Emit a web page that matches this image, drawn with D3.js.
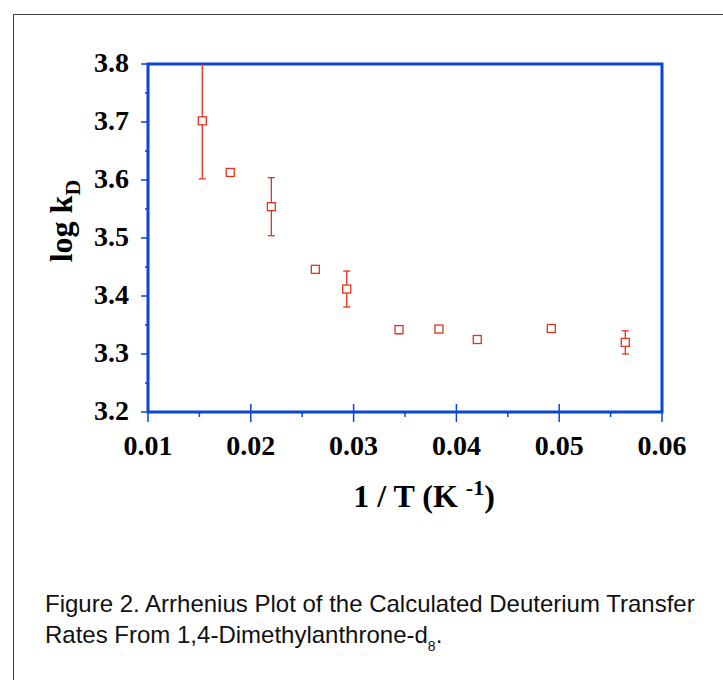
<!DOCTYPE html>
<html>
<head>
<meta charset="utf-8">
<script src="https://cdn.jsdelivr.net/npm/d3@7"></script>
<style>
body { margin: 0; background: #fff; }
svg { display: block; }
</style>
</head>
<body>
<div id="chart"></div>
<script>
// values
var invT   = [0.01528, 0.0180, 0.0220, 0.02628, 0.02933, 0.03442, 0.0383, 0.04203, 0.04923, 0.05643];
var logKD  = [3.702, 3.613, 3.554, 3.446, 3.412, 3.342, 3.343, 3.325, 3.344, 3.320];
var errKD  = [0.10, 0, 0.05, 0, 0.031, 0.007, 0, 0, 0, 0.02];
var xTicks = [0.01, 0.02, 0.03, 0.04, 0.05, 0.06];
var yTicks = [3.2, 3.3, 3.4, 3.5, 3.6, 3.7, 3.8];

var W = 723, H = 680;
var axisBlue = '#0a45d6', red = '#e3321f';
var serif = '"Liberation Serif", "Times New Roman", serif';

var svg = d3.select('#chart').append('svg').attr('width', W).attr('height', H);

// outer frame
svg.append('path').attr('d', 'M13.5,680 L13.5,14.5 L723,14.5')
   .attr('fill', 'none').attr('stroke', '#3a3a3a').attr('stroke-width', 1);

var x = d3.scaleLinear().domain([0.01, 0.06]).range([148, 662]);
var y = d3.scaleLinear().domain([3.2, 3.8]).range([412, 64]);

// minor ticks
var xMinor = xTicks.slice(0, -1).map(function(d) { return d + 0.005; });
var yMinor = yTicks.slice(0, -1).map(function(d) { return d + 0.05; });

var g = svg.append('g');

g.selectAll('.xmaj').data(xTicks).enter().append('line')
  .attr('x1', function(d) { return x(d); }).attr('x2', function(d) { return x(d); })
  .attr('y1', y(3.2) - 8).attr('y2', y(3.2) + 10)
  .attr('stroke', axisBlue).attr('stroke-width', 1.5);
g.selectAll('.xmin').data(xMinor).enter().append('line')
  .attr('x1', function(d) { return x(d); }).attr('x2', function(d) { return x(d); })
  .attr('y1', y(3.2)).attr('y2', y(3.2) + 5)
  .attr('stroke', axisBlue).attr('stroke-width', 1.5);
g.selectAll('.ymaj').data(yTicks).enter().append('line')
  .attr('x1', x(0.01) - 7).attr('x2', x(0.01))
  .attr('y1', function(d) { return y(d); }).attr('y2', function(d) { return y(d); })
  .attr('stroke', axisBlue).attr('stroke-width', 1.5);
g.selectAll('.ymin').data(yMinor).enter().append('line')
  .attr('x1', x(0.01) - 3).attr('x2', x(0.01))
  .attr('y1', function(d) { return y(d); }).attr('y2', function(d) { return y(d); })
  .attr('stroke', axisBlue).attr('stroke-width', 1.5);

// frame of plot
g.append('rect')
  .attr('x', x(0.01)).attr('y', y(3.8))
  .attr('width', x(0.06) - x(0.01)).attr('height', y(3.2) - y(3.8))
  .attr('fill', 'none').attr('stroke', axisBlue).attr('stroke-width', 3);

// tick labels
g.selectAll('.xl').data(xTicks).enter().append('text')
  .attr('x', function(d) { return x(d); }).attr('y', 455)
  .attr('text-anchor', 'middle')
  .style('font-family', serif).style('font-weight', 'bold').style('font-size', '28px')
  .text(function(d) { return d3.format('.2f')(d); });
g.selectAll('.yl').data(yTicks).enter().append('text')
  .attr('x', 129).attr('y', function(d) { return y(d) + 8; })
  .attr('text-anchor', 'end')
  .style('font-family', serif).style('font-weight', 'bold').style('font-size', '28px')
  .text(function(d) { return d3.format('.1f')(d); });

// axis titles
var xt = svg.append('text').attr('x', 424).attr('y', 507).attr('text-anchor', 'middle')
  .style('font-family', serif).style('font-weight', 'bold').style('font-size', '32px');
xt.append('tspan').text('1 / T (K ');
xt.append('tspan').attr('dy', -12).style('font-size', '22px').text('-1');
xt.append('tspan').attr('dy', 12).text(')');

var yt = svg.append('text').attr('transform', 'translate(72,221) rotate(-90)')
  .attr('text-anchor', 'middle')
  .style('font-family', serif).style('font-weight', 'bold').style('font-size', '32px');
yt.append('tspan').text('log k');
yt.append('tspan').attr('dy', 8).style('font-size', '22px').text('D');

// data
var pts = invT.map(function(d, i) { return { x: d, y: logKD[i], e: errKD[i] }; });
var plot = svg.append('g');
var withErr = pts.filter(function(d) { return d.e > 0; });
plot.selectAll('.eb').data(withErr).enter().append('line')
  .attr('x1', function(d) { return x(d.x); }).attr('x2', function(d) { return x(d.x); })
  .attr('y1', function(d) { return y(Math.min(d.y + d.e, 3.8)); })
  .attr('y2', function(d) { return y(d.y - d.e); })
  .attr('stroke', red).attr('stroke-width', 1.3);
plot.selectAll('.capb').data(withErr).enter().append('line')
  .attr('x1', function(d) { return x(d.x) - 3.5; }).attr('x2', function(d) { return x(d.x) + 3.5; })
  .attr('y1', function(d) { return y(d.y - d.e); }).attr('y2', function(d) { return y(d.y - d.e); })
  .attr('stroke', red).attr('stroke-width', 1.3);
plot.selectAll('.capt').data(withErr.filter(function(d) { return d.y + d.e < 3.8; })).enter().append('line')
  .attr('x1', function(d) { return x(d.x) - 3.5; }).attr('x2', function(d) { return x(d.x) + 3.5; })
  .attr('y1', function(d) { return y(d.y + d.e); }).attr('y2', function(d) { return y(d.y + d.e); })
  .attr('stroke', red).attr('stroke-width', 1.3);
plot.selectAll('.pt').data(pts).enter().append('rect')
  .attr('x', function(d) { return x(d.x) - 4; }).attr('y', function(d) { return y(d.y) - 4; })
  .attr('width', 8).attr('height', 8)
  .attr('fill', '#fff').attr('stroke', red).attr('stroke-width', 1.3);

// caption
var cap = svg.append('text').style('font-family', '"Liberation Sans", Arial, sans-serif')
  .style('font-size', '24px').attr('fill', '#111');
cap.append('tspan').attr('x', 45).attr('y', 612).text('Figure 2. Arrhenius Plot of the Calculated Deuterium Transfer');
cap.append('tspan').attr('x', 45).attr('y', 643).text('Rates From 1,4-Dimethylanthrone-d');
cap.append('tspan').attr('dy', 8).style('font-size', '14px').text('8');
cap.append('tspan').attr('dy', -8).text('.');
</script>
</body>
</html>
